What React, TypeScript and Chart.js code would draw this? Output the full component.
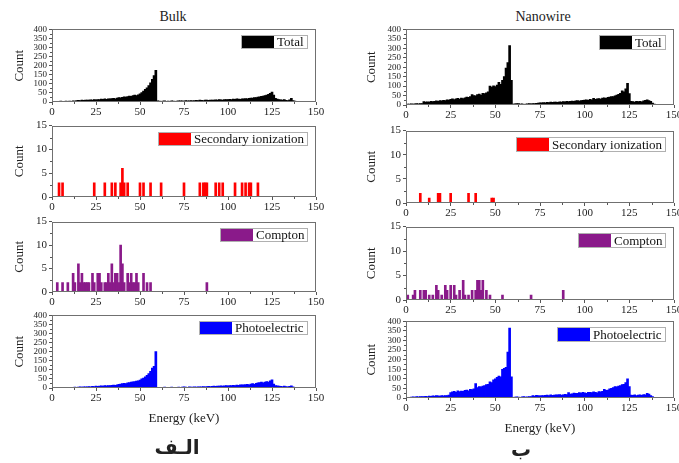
import React, { useEffect, useRef } from "react";
import { Chart, registerables } from "chart.js";
Chart.register(...registerables);

// Histogram counts, 1 keV bins, energies 0..140 keV (index = energy in keV)
const bulkTotal = [
  3, 4, 3, 4, 3, 5, 4, 3, 5, 4,
  5, 4, 6, 5, 8, 9, 8, 10, 9, 10,
  11, 10, 12, 11, 13, 12, 14, 13, 16, 15,
  17, 15, 18, 17, 19, 20, 18, 22, 24, 23,
  26, 28, 27, 30, 33, 31, 36, 38, 35, 40,
  45, 52, 60, 70, 78, 90, 105, 125, 145, 175,
  6, 5, 4, 5, 6, 4, 5, 4, 6, 5,
  4, 5, 6, 7, 6, 5, 8, 6, 7, 8,
  7, 8, 9, 8, 10, 9, 8, 10, 11, 9,
  10, 11, 10, 12, 11, 13, 12, 11, 13, 14,
  13, 15, 14, 16, 15, 17, 16, 15, 18, 17,
  19, 18, 20, 22, 21, 25, 24, 27, 29, 31,
  33, 36, 38, 42, 48, 55, 38, 20, 16, 14,
  12, 10, 14, 9, 8, 12, 20, 8, 5, 3,
  1,
];
const bulkPhoto = [
  2, 3, 2, 3, 2, 3, 3, 2, 4, 3,
  3, 4, 3, 5, 4, 5, 6, 5, 7, 6,
  7, 8, 7, 9, 8, 10, 9, 11, 12, 11,
  13, 12, 14, 13, 15, 16, 15, 18, 20, 22,
  24, 26, 25, 28, 30, 32, 34, 36, 38, 40,
  44, 50, 55, 62, 70, 80, 92, 110, 120, 200,
  4, 3, 4, 3, 5, 4, 3, 4, 5, 4,
  4, 3, 5, 4, 5, 6, 5, 4, 6, 5,
  5, 6, 5, 7, 6, 7, 8, 7, 8, 9,
  8, 9, 10, 9, 11, 10, 12, 11, 12, 13,
  12, 14, 13, 15, 14, 16, 15, 17, 18, 17,
  19, 20, 18, 22, 24, 20, 26, 28, 30, 32,
  28, 33, 35, 32, 40, 45, 22, 14, 12, 10,
  9, 8, 10, 8, 7, 9, 12, 6, 4, 2,
  1,
];
const nanoTotal = [
  4, 5, 5, 6, 5, 6, 7, 6, 8, 7,
  18, 15, 17, 16, 20, 18, 19, 22, 20, 24,
  22, 25, 24, 28, 26, 30, 32, 29, 33, 35,
  31, 36, 34, 38, 42, 40, 45, 55, 50, 48,
  55, 58, 52, 62, 60, 65, 70, 100, 95, 102,
  98, 105, 120, 110, 130, 150, 195, 225, 315, 130,
  5, 6, 8, 7, 5, 6, 4, 5, 6, 7,
  6, 8, 7, 9, 10, 12, 11, 13, 12, 14,
  13, 15, 14, 16, 15, 14, 17, 16, 18, 17,
  19, 18, 20, 21, 19, 22, 24, 21, 23, 25,
  26, 28, 25, 30, 27, 35, 30, 32, 34, 31,
  36, 38, 35, 40, 42, 45, 44, 48, 52, 56,
  62, 75, 70, 85, 115, 60, 20, 18, 16, 19,
  18, 20, 17, 22, 25, 28, 24, 20, 10, 5,
  2,
];
const nanoPhoto = [
  2, 3, 4, 5, 6, 5, 7, 6, 8, 7,
  8, 9, 8, 10, 9, 11, 10, 12, 11, 10,
  12, 11, 13, 12, 15, 28, 32, 35, 30, 38,
  33, 36, 35, 40, 42, 38, 45, 44, 48, 75,
  55, 60, 58, 62, 65, 70, 72, 85, 80, 95,
  100, 108, 115, 110, 150, 155, 160, 240, 365, 110,
  4, 5, 6, 5, 4, 6, 8, 5, 6, 7,
  8, 12, 10, 14, 12, 11, 13, 12, 14, 15,
  13, 16, 14, 15, 17, 16, 18, 15, 17, 19,
  18, 28, 20, 22, 26, 24, 25, 28, 26, 30,
  27, 25, 29, 30, 28, 32, 30, 27, 34, 32,
  35, 45, 40, 42, 48, 50, 55, 60, 58, 62,
  65, 70, 72, 80, 100, 60, 15, 14, 16, 13,
  15, 17, 14, 18, 16, 25, 20, 12, 8, 4,
  2,
];

// Sparse histograms: energy (keV) and count
const bulkSecEnergy = [4, 6, 24, 30, 34, 36, 39, 40, 41, 43, 50, 52, 56, 62, 75, 84, 86, 87, 88, 93, 95, 97, 104, 108, 110, 112, 113, 117];
const bulkSecCount = [3, 3, 3, 3, 3, 3, 3, 6, 3, 3, 3, 3, 3, 3, 3, 3, 3, 3, 3, 3, 3, 3, 3, 3, 3, 3, 3, 3];
const nanoSecEnergy = [8, 13, 18, 19, 25, 35, 39, 48, 49];
const nanoSecCount = [2, 1, 2, 2, 2, 2, 2, 1, 1];
const bulkComEnergy = [3, 6, 9, 12, 13, 15, 16, 17, 18, 19, 20, 21, 23, 24, 26, 27, 28, 30, 31, 32, 33, 34, 35, 36, 37, 38, 39, 40, 41, 43, 44, 45, 46, 47, 48, 49, 52, 54, 56, 88];
const bulkComCount = [2, 2, 2, 4, 2, 6, 2, 4, 2, 2, 2, 2, 4, 2, 4, 4, 2, 2, 2, 4, 2, 6, 2, 4, 4, 2, 10, 6, 2, 4, 2, 4, 2, 2, 4, 2, 4, 2, 2, 2];
const nanoComEnergy = [1, 4, 5, 8, 10, 11, 13, 15, 17, 18, 20, 22, 23, 25, 27, 28, 30, 32, 33, 35, 37, 39, 40, 41, 42, 43, 45, 47, 54, 70, 88];
const nanoComCount = [1, 1, 2, 2, 2, 2, 1, 1, 3, 2, 1, 3, 2, 3, 3, 1, 2, 4, 1, 1, 2, 2, 4, 4, 2, 4, 2, 1, 1, 1, 2];

const xTickValues = [0, 25, 50, 75, 100, 125, 150];
const yTicksLarge = [0, 50, 100, 150, 200, 250, 300, 350, 400];
const yTicksSmall = [0, 5, 10, 15];

const SERIF = '"Liberation Serif", "Times New Roman", serif';

const dense = (vals: number[]) => vals.map((v, i) => ({ x: i, y: v }));
const sparse = (e: number[], c: number[]) => e.map((v, i) => ({ x: v, y: c[i] }));

const decorPlugin = {
  id: "panelDecor",
  afterDatasetsDraw(chart: any, _args: any, opts: any) {
    const { ctx, chartArea: a } = chart;
    ctx.save();
    // frame
    ctx.strokeStyle = "#707070";
    ctx.lineWidth = 1;
    const L = Math.round(a.left), T = Math.round(a.top), R = Math.round(a.right), B = Math.round(a.bottom);
    ctx.strokeRect(L + 0.5, T + 0.5, R - L - 1, B - T - 1);
    // minor ticks
    const xs = chart.scales.x;
    const ys = chart.scales.y;
    ctx.strokeStyle = "#555";
    ctx.beginPath();
    for (let v = 12.5; v < 150; v += 25) {
      const px = Math.round(xs.getPixelForValue(v)) + 0.5;
      ctx.moveTo(px, B);
      ctx.lineTo(px, B + 2);
    }
    const yStep = ys.max > 20 ? 25 : 2.5;
    for (let v = yStep; v < ys.max; v += yStep * 2) {
      const py = Math.round(ys.getPixelForValue(v)) + 0.5;
      ctx.moveTo(L, py);
      ctx.lineTo(L - 2, py);
    }
    ctx.stroke();
    // legend
    ctx.font = `13px ${SERIF}`;
    const tw = ctx.measureText(opts.label).width;
    const h = opts.boxH;
    const sw = opts.swatchW;
    const w = sw + tw + 8;
    const right = R - 8;
    const top = T + 6;
    const left = right - w;
    ctx.fillStyle = "#fff";
    ctx.fillRect(left, top, w, h);
    ctx.strokeStyle = "#b0b0b0";
    ctx.strokeRect(Math.round(left) + 0.5, top + 0.5, Math.round(w) - 1, h - 1);
    ctx.fillStyle = opts.color;
    ctx.fillRect(Math.round(left) + 1, top + 1, sw, h - 2);
    ctx.fillStyle = "#111";
    ctx.textBaseline = "middle";
    ctx.textAlign = "left";
    ctx.fillText(opts.label, Math.round(left) + sw + 4, top + h / 2 + 1);
    ctx.restore();
  },
};

type Panel = {
  left: number;
  width: number;
  plotTop: number;
  plotBottom: number;
  axisW: number;
  padRight: number;
  data: { x: number; y: number }[];
  color: string;
  border: string;
  label: string;
  large: boolean;
  energyTitle: boolean;
  titlePad: number;
  boxH: number;
};

const LEFT = { left: 0, width: 330, axisW: 52, padRight: 14, titlePad: 12, boxH: 14 };
const RIGHT = { left: 350, width: 340, axisW: 56, padRight: 16, titlePad: 14, boxH: 15 };

const panels: Panel[] = [
  { ...LEFT, plotTop: 29, plotBottom: 102, data: dense(bulkTotal), color: "#000", border: "#000", label: "Total", large: true, energyTitle: false },
  { ...LEFT, plotTop: 124, plotBottom: 197, data: sparse(bulkSecEnergy, bulkSecCount), color: "#ff0000", border: "#cc0000", label: "Secondary ionization", large: false, energyTitle: false },
  { ...LEFT, plotTop: 220, plotBottom: 292, data: sparse(bulkComEnergy, bulkComCount), color: "#8a1a8a", border: "#6a006a", label: "Compton", large: false, energyTitle: false },
  { ...LEFT, plotTop: 315, plotBottom: 388, data: dense(bulkPhoto), color: "#0000ff", border: "#0000ff", label: "Photoelectric", large: true, energyTitle: true },
  { ...RIGHT, plotTop: 29, plotBottom: 105, data: dense(nanoTotal), color: "#000", border: "#000", label: "Total", large: true, energyTitle: false },
  { ...RIGHT, plotTop: 129, plotBottom: 203, data: sparse(nanoSecEnergy, nanoSecCount), color: "#ff0000", border: "#cc0000", label: "Secondary ionization", large: false, energyTitle: false },
  { ...RIGHT, plotTop: 225, plotBottom: 300, data: sparse(nanoComEnergy, nanoComCount), color: "#8a1a8a", border: "#6a006a", label: "Compton", large: false, energyTitle: false },
  { ...RIGHT, plotTop: 321, plotBottom: 398, data: dense(nanoPhoto), color: "#0000ff", border: "#0000ff", label: "Photoelectric", large: true, energyTitle: true },
];

const PAD_TOP = 7;

function PanelChart({ p }: { p: Panel }) {
  const ref = useRef<HTMLCanvasElement>(null);
  const xAxisH = p.energyTitle ? 40 : 16;
  const height = PAD_TOP + (p.plotBottom - p.plotTop) + xAxisH;
  useEffect(() => {
    if (!ref.current) return;
    const chart = new Chart(ref.current, {
      type: "bar",
      data: {
        datasets: [
          {
            data: p.data as any,
            backgroundColor: p.color,
            borderColor: p.border,
            borderWidth: 0,
            barThickness: 2,
          } as any,
        ],
      },
      options: {
        animation: false,
        responsive: false,
        maintainAspectRatio: false,
        devicePixelRatio: 1,
        layout: { padding: { top: PAD_TOP, right: p.padRight, left: 0, bottom: 0 } },
        plugins: {
          legend: { display: false },
          tooltip: { enabled: false },
          title: { display: false },
          panelDecor: { label: p.label, color: p.color, boxH: p.boxH, swatchW: 32 },
        } as any,
        scales: {
          x: {
            type: "linear",
            min: 0,
            max: 150,
            offset: false,
            afterBuildTicks: (axis: any) => {
              axis.ticks = xTickValues.map((v) => ({ value: v }));
            },
            afterFit: (s: any) => {
              s.height = xAxisH;
            },
            ticks: {
              autoSkip: false,
              maxRotation: 0,
              padding: 1,
              color: "#222",
              font: { family: SERIF, size: 11 },
            },
            grid: { drawOnChartArea: false, drawTicks: true, tickLength: 3, color: "#555", offset: false },
            border: { display: false },
            title: {
              display: p.energyTitle,
              text: "Energy (keV)",
              color: "#222",
              font: { family: SERIF, size: 13 },
              padding: { top: 0, bottom: 2 },
            },
          },
          y: {
            min: 0,
            max: p.large ? 400 : 15,
            afterBuildTicks: (axis: any) => {
              axis.ticks = (p.large ? yTicksLarge : yTicksSmall).map((v) => ({ value: v }));
            },
            afterFit: (s: any) => {
              s.width = p.axisW;
            },
            ticks: {
              autoSkip: false,
              padding: 2,
              color: "#222",
              font: { family: SERIF, size: p.large ? 9 : 11 },
            },
            grid: { drawOnChartArea: false, drawTicks: true, tickLength: 3, color: "#555" },
            border: { display: false },
            title: {
              display: true,
              text: "Count",
              color: "#222",
              font: { family: SERIF, size: 13 },
              padding: { top: p.titlePad, bottom: 0 },
            },
          },
        },
      },
      plugins: [decorPlugin as any],
    });
    return () => chart.destroy();
  }, []);
  return (
    <canvas
      ref={ref}
      width={p.width}
      height={height}
      style={{
        position: "absolute",
        left: p.left,
        top: p.plotTop - PAD_TOP,
        width: p.width,
        height,
      }}
    />
  );
}

const textStyle = (cx: number, cy: number, size: number, bold = false): React.CSSProperties => ({
  position: "absolute",
  left: cx - 100,
  width: 200,
  top: cy - size * 0.6,
  height: size * 1.2,
  lineHeight: `${size * 1.2}px`,
  textAlign: "center",
  fontFamily: SERIF,
  fontSize: size,
  fontWeight: bold ? "bold" : "normal",
  color: "#222",
  whiteSpace: "nowrap",
});

export default function App() {
  return (
    <div
      style={{
        position: "absolute",
        left: 0,
        top: 0,
        width: 679,
        height: 463,
        overflow: "hidden",
        background: "#fff",
      }}
    >
      <div style={textStyle(173, 17, 14)}>Bulk</div>
      <div style={textStyle(543, 17, 14)}>Nanowire</div>
      {panels.map((p, i) => (
        <PanelChart key={i} p={p} />
      ))}
      <div style={{ ...textStyle(177, 447, 20, true), fontFamily: '"DejaVu Sans", serif' }} dir="rtl">الـف</div>
      <div style={{ ...textStyle(521, 449, 20, true), fontFamily: '"DejaVu Sans", serif' }} dir="rtl">ب</div>
    </div>
  );
}
